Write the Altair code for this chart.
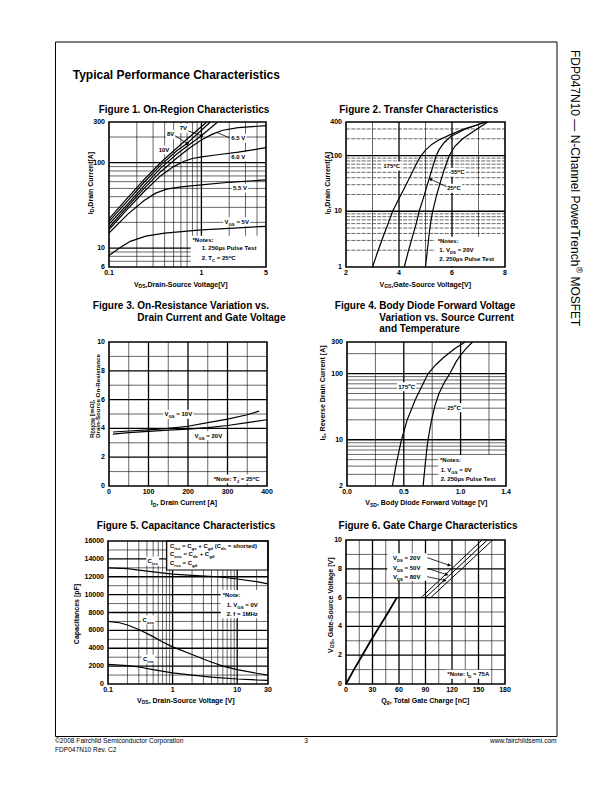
import math
import re
import altair as alt
import pandas as pd

W, H, M = 596, 776, 8
FONT = "Liberation Sans"

# ---------------- data ----------------
# Figure 1 - On-Region Characteristics (VDS [V] -> ID [A])
F1_XTICKS = [0.1, 1, 5]
F1_YTICKS = [6, 10, 100, 300]
F1_10V_X = [0.1, 0.158, 0.238, 0.361, 0.546, 0.827, 1.14]
F1_10V_Y = [22, 38.5, 63, 100, 150, 221, 300]
F1_8V_X = [0.1, 0.16, 0.24, 0.36, 0.55, 0.7, 0.85, 1.0, 1.25]
F1_8V_Y = [20.5, 36, 59, 93, 140, 168, 205, 240, 300]
F1_7V_X = [0.1, 0.16, 0.24, 0.36, 0.55, 0.75, 1.0, 1.2, 1.5]
F1_7V_Y = [19, 33, 54, 86, 128, 165, 207, 245, 300]
F1_65V_X = [0.1, 0.16, 0.24, 0.36, 0.55, 0.75, 1.0, 1.3, 1.7, 2.5, 5]
F1_65V_Y = [17.5, 31, 50, 78, 115, 150, 185, 215, 240, 258, 272]
F1_60V_X = [0.1, 0.16, 0.24, 0.36, 0.5, 0.65, 0.8, 1.0, 1.5, 2.5, 5]
F1_60V_Y = [16.5, 29, 46, 70, 90, 104, 112, 117, 124, 133, 150]
F1_55V_X = [0.1, 0.16, 0.24, 0.32, 0.42, 0.6, 1.0, 2, 5]
F1_55V_Y = [15, 25, 36, 44, 49, 52, 55, 59, 63]
F1_5V_X = [0.1, 0.13, 0.17, 0.25, 0.4, 0.7, 1, 2, 5]
F1_5V_Y = [8.2, 10, 12, 13.8, 15, 15.8, 16.3, 17, 18]
F1_MARK_X = [1.0, 0.7]
F1_MARK_Y = [207, 168]

# Figure 2 - Transfer Characteristics (VGS [V] -> ID [A])
F2_XTICKS = [2, 4, 6, 8]
F2_YTICKS = [1, 10, 100, 400]
F2_175_X = [3.0, 3.2, 3.4, 3.6, 3.76, 4.0, 4.2, 4.4, 4.6, 4.8, 5.0, 5.25, 5.5, 6.0, 6.5, 7.0, 7.25]
F2_175_Y = [1, 1.9, 3.5, 6.2, 10, 17, 26, 40, 63, 95, 125, 160, 190, 245, 305, 360, 400]
F2_25_X = [4.2, 4.35, 4.5, 4.65, 4.76, 4.9, 5.05, 5.2, 5.39, 5.5, 5.7, 5.95, 6.5, 7.0, 7.3]
F2_25_Y = [1, 1.9, 3.4, 6, 10, 16, 28, 48, 95, 125, 170, 220, 300, 360, 400]
F2_M55_X = [5.0, 5.07, 5.14, 5.2, 5.27, 5.4, 5.55, 5.7, 5.9, 6.1, 6.4, 6.9, 7.35]
F2_M55_Y = [1, 2, 4, 6.5, 10, 18, 32, 55, 100, 145, 200, 290, 400]

# Figure 3 - On-Resistance (ID [A] -> RDS(on) [mOhm])
F3_XTICKS = [0, 100, 200, 300, 400]
F3_YTICKS = [0, 2, 4, 6, 8, 10]
F3_10V_X = [10, 50, 100, 150, 200, 250, 300, 350, 380]
F3_10V_Y = [3.75, 3.82, 3.9, 4.0, 4.15, 4.4, 4.65, 4.95, 5.2]
F3_20V_X = [10, 50, 100, 150, 200, 250, 300, 350, 400]
F3_20V_Y = [3.6, 3.7, 3.8, 3.88, 3.95, 4.05, 4.2, 4.4, 4.6]

# Figure 4 - Body diode (VSD [V] -> IS [A])
F4_XTICKS = [0.0, 0.5, 1.0, 1.4]
F4_YTICKS = [2, 10, 100, 300]
F4_175_X = [0.40, 0.43, 0.46, 0.48, 0.53, 0.60, 0.66, 0.715, 0.78, 0.85, 0.95, 1.04]
F4_175_Y = [2, 4, 7, 10, 20, 40, 65, 100, 135, 175, 240, 300]
F4_25_X = [0.67, 0.68, 0.69, 0.70, 0.71, 0.725, 0.745, 0.775, 0.81, 0.86, 0.906, 0.96, 1.0, 1.05, 1.106]
F4_25_Y = [2, 3, 4.5, 6.5, 9, 13, 20, 33, 50, 75, 100, 150, 190, 240, 300]

# Figure 5 - Capacitance (VDS [V] -> C [pF])
F5_XTICKS = [0.1, 1, 10, 30]
F5_YTICKS = [0, 2000, 4000, 6000, 8000, 10000, 12000, 14000, 16000]
F5_CISS_X = [0.1, 0.2, 0.3, 0.5, 1, 2, 5, 10, 20, 30]
F5_CISS_Y = [13000, 12900, 12750, 12550, 12300, 12150, 12000, 11750, 11450, 11200]
F5_COSS_X = [0.1, 0.15, 0.2, 0.3, 0.5, 0.7, 1, 2, 3.5, 6, 10, 20, 30]
F5_COSS_Y = [7000, 6850, 6600, 6100, 5300, 4700, 4150, 3300, 2600, 2000, 1600, 1200, 1000]
F5_CRSS_X = [0.1, 0.2, 0.3, 0.5, 1, 2, 4, 10, 20, 30]
F5_CRSS_Y = [2200, 2050, 1900, 1600, 1250, 1000, 780, 560, 450, 400]

# Figure 6 - Gate charge (Qg [nC] -> VGS [V])
F6_XTICKS = [0, 30, 60, 90, 120, 150, 180]
F6_YTICKS = [0, 2, 4, 6, 8, 10]
F6_BASE_X = [0, 9, 18.5, 28, 38, 48, 57.5]
F6_BASE_Y = [0, 1, 2, 3, 4, 5, 6]
F6_PLAT_X = [57.5, 96]
F6_PLAT_Y = [6, 6]
F6_20V_X = [85, 154]
F6_20V_Y = [6, 10]
F6_50V_X = [90, 160]
F6_50V_Y = [6, 10]
F6_80V_X = [96, 166]
F6_80V_Y = [6, 10]

# ---------------- panel layout (page pixels) ----------------
def rng(a, b, s):
    out, v = [], a
    while v <= b + 1e-9:
        out.append(round(v, 6))
        v += s
    return out

LOGMIN_A = [0.2, 0.3, 0.4, 0.5, 0.6, 0.7, 0.8, 0.9]
P1 = dict(l=109, r=266, t=122, b=267, xt='log', xd=[0.1, 5], yt='log', yd=[6, 300],
          xv=F1_XTICKS, yv=F1_YTICKS, xf='{:g}', yf='{:g}',
          vmin=LOGMIN_A + [2, 3, 4], vmaj=[1],
          hmin=[7, 8, 9, 20, 30, 40, 50, 60, 70, 80, 90, 200], hmaj=[10, 100])
P2 = dict(l=346, r=505, t=122, b=267, xt='linear', xd=[2, 8], yt='log', yd=[1, 400],
          xv=F2_XTICKS, yv=F2_YTICKS, xf='{:g}', yf='{:g}',
          vmin=[3, 5, 7], vmaj=[4, 6], hdash=True,
          hmin=[2, 3, 4, 5, 6, 7, 8, 9, 20, 30, 40, 50, 60, 70, 80, 90, 200, 300], hmaj=[10, 100])
P3 = dict(l=109, r=267, t=342, b=486, xt='linear', xd=[0, 400], yt='linear', yd=[0, 10],
          xv=F3_XTICKS, yv=F3_YTICKS, xf='{:g}', yf='{:g}',
          vmin=[50, 150, 250, 350], vmaj=[100, 200, 300],
          hmin=[1, 3, 5, 7, 9], hmaj=[2, 4, 6, 8])
P4 = dict(l=347, r=506, t=342, b=486, xt='linear', xd=[0, 1.4], yt='log', yd=[2, 300],
          xv=F4_XTICKS, yv=F4_YTICKS, xf='{:.1f}', yf='{:g}',
          vmin=[0.25, 0.75, 1.25], vmaj=[0.5, 1.0],
          hmin=[3, 4, 5, 6, 7, 8, 9, 20, 30, 40, 50, 60, 70, 80, 90, 200], hmaj=[10, 100])
P5 = dict(l=108, r=268, t=541, b=684, xt='log', xd=[0.1, 30], yt='linear', yd=[0, 16000],
          xv=F5_XTICKS, yv=F5_YTICKS, xf='{:g}', yf='{:g}',
          vmin=LOGMIN_A + [2, 3, 4, 5, 6, 7, 8, 9, 20], vmaj=[1, 10],
          hmin=rng(1000, 15000, 2000), hmaj=rng(2000, 14000, 2000))
P6 = dict(l=346, r=505, t=540, b=684, xt='linear', xd=[0, 180], yt='linear', yd=[0, 10],
          xv=F6_XTICKS, yv=F6_YTICKS, xf='{:g}', yf='{:g}',
          vmin=[15, 45, 75, 105, 135, 165], vmaj=[30, 60, 90, 120, 150],
          hmin=[1, 3, 5, 7, 9], hmaj=[2, 4, 6, 8])
PANELS = [P1, P2, P3, P4, P5, P6]


def frac(v, d, t):
    if t == 'log':
        return (math.log10(v) - math.log10(d[0])) / (math.log10(d[1]) - math.log10(d[0]))
    return (v - d[0]) / (d[1] - d[0])


def to_px(p, xv, yv):
    return (p['l'] + frac(xv, p['xd'], p['xt']) * (p['r'] - p['l']),
            p['b'] - frac(yv, p['yd'], p['yt']) * (p['b'] - p['t']))


def xs_(p):
    return alt.Scale(type=p['xt'], domain=p['xd'], range=[p['l'] - M, p['r'] - M], nice=False)


def ys_(p):
    return alt.Scale(type=p['yt'], domain=p['yd'], range=[p['b'] - M, p['t'] - M], nice=False)


def vlines(p, vals, w, dash=None):
    kw = dict(color='black', strokeWidth=w)
    if dash:
        kw['strokeDash'] = dash
    return alt.Chart(pd.DataFrame({'v': vals})).mark_rule(**kw).encode(
        x=alt.X('v:Q', scale=xs_(p), axis=None),
        y=alt.YDatum(p['yd'][0], type='quantitative', scale=ys_(p), axis=None),
        y2=alt.Y2Datum(p['yd'][1]))


def hlines(p, vals, w, dash=None):
    kw = dict(color='black', strokeWidth=w)
    if dash:
        kw['strokeDash'] = dash
    return alt.Chart(pd.DataFrame({'v': vals})).mark_rule(**kw).encode(
        y=alt.Y('v:Q', scale=ys_(p), axis=None),
        x=alt.XDatum(p['xd'][0], type='quantitative', scale=xs_(p), axis=None),
        x2=alt.X2Datum(p['xd'][1]))


def grid_layer(p):
    parts = [vlines(p, p['vmin'], 0.6), vlines(p, p['vmaj'], 1.3),
             hlines(p, p['hmin'], 0.6, [4, 1.2] if p.get('hdash') else None),
             hlines(p, p['hmaj'], 1.3)]
    xl = pd.DataFrame({'v': p['xv'], 'lab': [p['xf'].format(t) for t in p['xv']]})
    yl = pd.DataFrame({'v': p['yv'], 'lab': [p['yf'].format(t) for t in p['yv']]})
    xlab = alt.Chart(xl).mark_text(font=FONT, fontWeight='bold', fontSize=7, color='black',
                                   baseline='middle', align='center', dy=6).encode(
        x=alt.X('v:Q', scale=xs_(p), axis=None),
        y=alt.YDatum(p['yd'][0], type='quantitative', scale=ys_(p), axis=None),
        text='lab:N')
    ylab = alt.Chart(yl).mark_text(font=FONT, fontWeight='bold', fontSize=7, color='black',
                                   baseline='middle', align='right', dx=-4).encode(
        y=alt.Y('v:Q', scale=ys_(p), axis=None),
        x=alt.XDatum(p['xd'][0], type='quantitative', scale=xs_(p), axis=None),
        text='lab:N')
    return alt.layer(*parts, xlab, ylab)


def curve_layer(p, series, sw=1.2):
    rows = []
    for name, xs, ys in series:
        for i, (a, b) in enumerate(zip(xs, ys)):
            rows.append({'s': name, 'x': a, 'y': b, 'o': i})
    return alt.Chart(pd.DataFrame(rows)).mark_line(color='black', strokeWidth=sw).encode(
        x=alt.X('x:Q', scale=xs_(p), axis=None),
        y=alt.Y('y:Q', scale=ys_(p), axis=None),
        detail='s:N', order='o:Q')


# ---------------- rich text helper ----------------
BW = {' ': 278, '*': 389, '+': 584, ',': 278, '-': 333, '.': 278, '/': 278, ':': 333, '=': 584,
      '(': 333, ')': 333, '[': 333, ']': 333, '°': 400, 'µ': 611, 'Ω': 768, '®': 737, '©': 737, '—': 1000,
      'A': 722, 'B': 722, 'C': 722, 'D': 722, 'E': 667, 'F': 611, 'G': 778, 'H': 722, 'I': 278, 'J': 556,
      'K': 722, 'L': 611, 'M': 833, 'N': 722, 'O': 778, 'P': 667, 'Q': 778, 'R': 722, 'S': 667, 'T': 611,
      'U': 722, 'V': 667, 'W': 944, 'X': 667, 'Y': 667, 'Z': 611,
      'a': 556, 'b': 611, 'c': 556, 'd': 611, 'e': 556, 'f': 333, 'g': 611, 'h': 611, 'i': 278, 'j': 278,
      'k': 556, 'l': 278, 'm': 889, 'n': 611, 'o': 611, 'p': 611, 'q': 611, 'r': 389, 's': 556, 't': 333,
      'u': 611, 'v': 556, 'w': 778, 'x': 556, 'y': 556, 'z': 500}
RW = {' ': 278, ',': 278, '-': 333, '.': 278, '/': 278, ':': 278, '(': 333, ')': 333, '©': 737, '®': 737,
      '—': 1000,
      'A': 667, 'B': 667, 'C': 722, 'D': 722, 'E': 667, 'F': 611, 'G': 778, 'H': 722, 'I': 278, 'J': 500,
      'K': 667, 'L': 556, 'M': 833, 'N': 722, 'O': 778, 'P': 667, 'Q': 778, 'R': 722, 'S': 667, 'T': 611,
      'U': 722, 'V': 667, 'W': 944, 'X': 667, 'Y': 667, 'Z': 611,
      'a': 556, 'b': 556, 'c': 500, 'd': 556, 'e': 556, 'f': 278, 'g': 556, 'h': 556, 'i': 222, 'j': 222,
      'k': 500, 'l': 222, 'm': 833, 'n': 556, 'o': 556, 'p': 556, 'q': 556, 'r': 333, 's': 500, 't': 278,
      'u': 556, 'v': 500, 'w': 722, 'x': 500, 'y': 500, 'z': 500}

TEXT_ROWS, BOX_ROWS = [], []


def parse(markup):
    segs, pos = [], 0
    for m in re.finditer(r'([_^])\{([^}]*)\}', markup):
        if m.start() > pos:
            segs.append((markup[pos:m.start()], 'n'))
        segs.append((m.group(2), 'sub' if m.group(1) == '_' else 'sup'))
        pos = m.end()
    if pos < len(markup):
        segs.append((markup[pos:], 'n'))
    return segs


def twidth(s, size, bold):
    tab = BW if bold else RW
    return sum(tab.get(c, 556) for c in s) * size / 1000.0


def rt(x, y, markup, size, bold=True, align='center', angle=0, bg=False, pad=1.2):
    pieces, total = [], 0.0
    for t, k in parse(markup):
        s = size * 0.72 if k != 'n' else size
        lead = len(t) - len(t.lstrip(' '))
        body = t.strip(' ')
        dy = 0.28 * size if k == 'sub' else (-0.42 * size if k == 'sup' else 0.0)
        if body:
            pieces.append((body, s, total + twidth(' ' * lead, s, bold), dy))
        total += twidth(t, s, bold)
    start = {'left': 0.0, 'center': -total / 2, 'right': -total}[align]
    base = 0.36 * size
    for body, s, cx, dy in pieces:
        d = start + cx
        if angle == 0:
            px, py = x + d, y + base + dy
        elif angle == 270:
            px, py = x + base + dy, y - d
        else:
            px, py = x - base - dy, y + d
        TEXT_ROWS.append({'x': px - M, 'y': py - M, 't': body, 's': s, 'a': angle,
                          'b': 'bold' if bold else 'normal'})
    if bg:
        BOX_ROWS.append({'x0': x + start - pad - M, 'x1': x + start + total + pad - M,
                         'y0': y - 0.55 * size - pad - M, 'y1': y + 0.55 * size + pad - M})


def box(x0, y0, x1, y1):
    BOX_ROWS.append({'x0': x0 - M, 'x1': x1 - M, 'y0': y0 - M, 'y1': y1 - M})


# ---------------- page texts ----------------
rt(72.7, 74.3, "Typical Performance Characteristics", 12, align='left')
rt(184, 109, "Figure 1. On-Region Characteristics", 10)
rt(419, 109, "Figure 2. Transfer Characteristics", 10)
rt(92.8, 305.5, "Figure 3. On-Resistance Variation vs.", 10, align='left')
rt(137.3, 317, "Drain Current and Gate Voltage", 10, align='left')
rt(334.8, 305.5, "Figure 4. Body Diode Forward Voltage", 10, align='left')
rt(379.3, 317, "Variation vs. Source Current", 10, align='left')
rt(379.3, 328.5, "and Temperature", 10, align='left')
rt(186, 525, "Figure 5. Capacitance Characteristics", 10)
rt(428, 525, "Figure 6. Gate Charge Characteristics", 10)

# axis titles
rt(181, 284, "V_{DS},Drain-Source Voltage[V]", 7)
rt(425.5, 284, "V_{GS},Gate-Source Voltage[V]", 7)
rt(184, 502.5, "I_{D}, Drain Current [A]", 7)
rt(426.5, 502.5, "V_{SD}, Body Diode Forward Voltage [V]", 7)
rt(186, 700, "V_{DS}, Drain-Source Voltage [V]", 7)
rt(425.5, 700, "Q_{g}, Total Gate Charge [nC]", 7)
rt(90, 183, "I_{D},Drain Current[A]", 7, angle=270)
rt(327, 183, "I_{D},Drain Current[A]", 7, angle=270)
rt(91.5, 438, "R_{DS(ON)} [mΩ],", 6.2, align='left', angle=270)
rt(98, 438, "Drain-Source On-Resistance", 6.2, align='left', angle=270)
rt(322, 393, "I_{S}, Reverse Drain Current [A]", 7, angle=270)
rt(76, 614, "Capacitances [pF]", 7, angle=270)
rt(330, 605, "V_{GS}, Gate-Source Voltage [V]", 7, angle=270)

# Figure 1 annotations
rt(183.3, 128.3, "7V", 6, bg=True)
rt(170.7, 134.3, "8V", 6, bg=True)
rt(164, 150, "10V", 6, bg=True)
rt(238.3, 138.3, "6.5 V", 6, bg=True)
rt(238.3, 156.7, "6.0 V", 6, bg=True)
rt(240, 188.3, "5.5 V", 6, bg=True)
rt(236.7, 221.7, "V_{GS} = 5V", 6, bg=True)
box(190.7, 235.7, 265.2, 266.2)
rt(192.5, 240, "*Notes:", 6, align='left')
rt(201.7, 247.5, "1. 250µs Pulse Test", 6, align='left')
rt(201.7, 258.3, "2. T_{C} = 25^{o}C", 6, align='left')

# Figure 2 annotations
rt(391.7, 166, "175^{o}C", 6, bg=True)
rt(456.7, 172.3, "-55^{o}C", 6, bg=True)
rt(454, 188.3, "25^{o}C", 6, bg=True)
box(435, 236.7, 504.2, 266.2)
rt(437.7, 241, "*Notes:", 6, align='left')
rt(439.3, 250, "1. V_{DS} = 20V", 6, align='left')
rt(439.3, 259, "2. 250µs Pulse Test", 6, align='left')

# Figure 3 annotations
rt(178.3, 414.3, "V_{GS} = 10V", 6, bg=True)
rt(208.3, 435.7, "V_{GS} = 20V", 6, bg=True)
rt(236.7, 479, "*Note: T_{J} = 25^{o}C", 6, bg=True)

# Figure 4 annotations
rt(406.7, 386.7, "175^{o}C", 6, bg=True)
rt(454, 407.7, "25^{o}C", 6, bg=True)
box(438.3, 455, 505.2, 485.2)
rt(440, 460, "*Notes:", 6, align='left')
rt(440.7, 470, "1. V_{GS} = 0V", 6, align='left')
rt(440.7, 479.3, "2. 250µs Pulse Test", 6, align='left')

# Figure 5 annotations
rt(152.7, 561, "C_{iss}", 6, bg=True)
rt(148.3, 620, "C_{oss}", 6, bg=True)
rt(148.3, 659, "C_{rss}", 6, bg=True)
rt(170, 545.7, "C_{iss} = C_{gs} + C_{gd} (C_{ds} = shorted)", 6, align='left')
rt(170, 554.3, "C_{oss} = C_{ds} + C_{gd}", 6, align='left')
rt(170, 563.3, "C_{rss} = C_{gd}", 6, align='left')
box(220.7, 590, 267.2, 618.3)
rt(222.7, 595, "*Note:", 6, align='left')
rt(226.7, 605, "1. V_{GS} = 0V", 6, align='left')
rt(226.7, 614, "2. f = 1MHz", 6, align='left')

# Figure 6 annotations
box(387.3, 553.3, 427.3, 580.7)
rt(406.7, 558.3, "V_{DS} = 20V", 6)
rt(406.7, 567.7, "V_{DS} = 50V", 6)
rt(406.7, 576.7, "V_{DS} = 80V", 6)
rt(468.3, 674.3, "*Note: I_{D} = 75A", 6, bg=True)

# footer and side title
rt(55, 741, "©2008 Fairchild Semiconductor Corporation", 6.6, bold=False, align='left')
rt(55, 750, "FDP047N10 Rev. C2", 6.6, bold=False, align='left')
rt(306, 741, "3", 6.6, bold=False)
rt(557, 741, "www.fairchildsemi.com", 6.6, bold=False, align='right')
rt(575, 50, "FDP047N10 — N-Channel PowerTrench^{®} MOSFET", 12, bold=False, align='left', angle=90)

# ---------------- leaders / arrows ----------------
d7 = to_px(P1, F1_MARK_X[0], F1_MARK_Y[0])
d8 = to_px(P1, F1_MARK_X[1], F1_MARK_Y[1])
c65 = to_px(P1, 1.47, 226)
a25 = to_px(P2, 5.14, 38.5)
LEADERS = [((188.3, 131.0), d7, False), ((175.0, 135.7), d8, False), (c65, (229.5, 137.8), False),
           ((446.7, 186.7), a25, True),
           ((427.3, 557.7), (450.5, 565.7), True), ((427.3, 568.3), (447.8, 575.0), True),
           ((427.3, 576.7), (446.0, 580.7), True)]
lead_rows, head_rows = [], []
for (sx, sy), (ex, ey), head in LEADERS:
    lead_rows.append({'x': sx - M, 'y': sy - M, 'x2': ex - M, 'y2': ey - M})
    if head:
        L = math.hypot(ex - sx, ey - sy)
        ux, uy = (ex - sx) / L, (ey - sy) / L
        ang = math.degrees(math.atan2(ux, -uy)) % 360
        head_rows.append({'x': ex - ux * 1.8 - M, 'y': ey - uy * 1.8 - M, 'ang': ang})
dot_rows = [{'x': d7[0] - M, 'y': d7[1] - M}, {'x': d8[0] - M, 'y': d8[1] - M}]

leaders = alt.Chart(pd.DataFrame(lead_rows)).mark_rule(color='black', strokeWidth=0.8).encode(
    x=alt.X('x:Q', scale=None), y=alt.Y('y:Q', scale=None), x2='x2:Q', y2='y2:Q')
heads = alt.Chart(pd.DataFrame(head_rows)).mark_point(shape='triangle', filled=True, color='black',
                                                      size=14, opacity=1).encode(
    x=alt.X('x:Q', scale=None), y=alt.Y('y:Q', scale=None), angle=alt.Angle('ang:Q', scale=None))
dots = alt.Chart(pd.DataFrame(dot_rows)).mark_circle(color='black', size=9, opacity=1).encode(
    x=alt.X('x:Q', scale=None), y=alt.Y('y:Q', scale=None))

white = alt.Chart(pd.DataFrame(BOX_ROWS)).mark_rect(color='white').encode(
    x=alt.X('x0:Q', scale=None), x2='x1:Q', y=alt.Y('y0:Q', scale=None), y2='y1:Q')

legend_box = alt.Chart(pd.DataFrame([{'x0': 166.7 - M, 'x1': 268 - M, 'y0': 541 - M, 'y1': 570 - M}])).mark_rect(
    fill='white', stroke='black', strokeWidth=1.2).encode(
    x=alt.X('x0:Q', scale=None), x2='x1:Q', y=alt.Y('y0:Q', scale=None), y2='y1:Q')

frame_rows = [{'x0': p['l'] - M, 'x1': p['r'] - M, 'y0': p['t'] - M, 'y1': p['b'] - M, 'w': 1.6}
              for p in PANELS]
frame_rows.append({'x0': 55.5 - M, 'x1': 557 - M, 'y0': 42 - M, 'y1': 736.5 - M, 'w': 1.0})
frames = alt.Chart(pd.DataFrame(frame_rows)).mark_rect(filled=False, color='black').encode(
    x=alt.X('x0:Q', scale=None), x2='x1:Q', y=alt.Y('y0:Q', scale=None), y2='y1:Q',
    strokeWidth=alt.StrokeWidth('w:Q', scale=None))


def text_layer(weight):
    rows = [r for r in TEXT_ROWS if r['b'] == weight]
    return alt.Chart(pd.DataFrame(rows)).mark_text(
        align='left', baseline='alphabetic', font=FONT, fontWeight=weight, color='black').encode(
        x=alt.X('x:Q', scale=None), y=alt.Y('y:Q', scale=None), text='t:N',
        size=alt.Size('s:Q', scale=None), angle=alt.Angle('a:Q', scale=None))


curves = [
    curve_layer(P1, [("10V", F1_10V_X, F1_10V_Y), ("8V", F1_8V_X, F1_8V_Y), ("7V", F1_7V_X, F1_7V_Y),
                     ("6.5V", F1_65V_X, F1_65V_Y), ("6.0V", F1_60V_X, F1_60V_Y),
                     ("5.5V", F1_55V_X, F1_55V_Y), ("5V", F1_5V_X, F1_5V_Y)]),
    curve_layer(P2, [("175C", F2_175_X, F2_175_Y), ("25C", F2_25_X, F2_25_Y), ("-55C", F2_M55_X, F2_M55_Y)]),
    curve_layer(P3, [("10V", F3_10V_X, F3_10V_Y), ("20V", F3_20V_X, F3_20V_Y)]),
    curve_layer(P4, [("175C", F4_175_X, F4_175_Y), ("25C", F4_25_X, F4_25_Y)]),
    curve_layer(P5, [("Ciss", F5_CISS_X, F5_CISS_Y), ("Coss", F5_COSS_X, F5_COSS_Y),
                     ("Crss", F5_CRSS_X, F5_CRSS_Y)]),
    curve_layer(P6, [("base", F6_BASE_X, F6_BASE_Y)], sw=1.8),
    curve_layer(P6, [("plateau", F6_PLAT_X, F6_PLAT_Y), ("20V", F6_20V_X, F6_20V_Y),
                     ("50V", F6_50V_X, F6_50V_Y), ("80V", F6_80V_X, F6_80V_Y)], sw=1.0),
]

layers = [grid_layer(p) for p in PANELS] + [white, legend_box] + curves + \
         [leaders, heads, dots, frames, text_layer('bold'), text_layer('normal')]

chart = alt.layer(*layers).resolve_scale(x='independent', y='independent').properties(
    width=W, height=H, padding=0, background='white',
    autosize=alt.AutoSizeParams(type='none')
).configure_view(stroke=None)

chart.save("out.html", embed_options={"renderer": "svg", "actions": False})
